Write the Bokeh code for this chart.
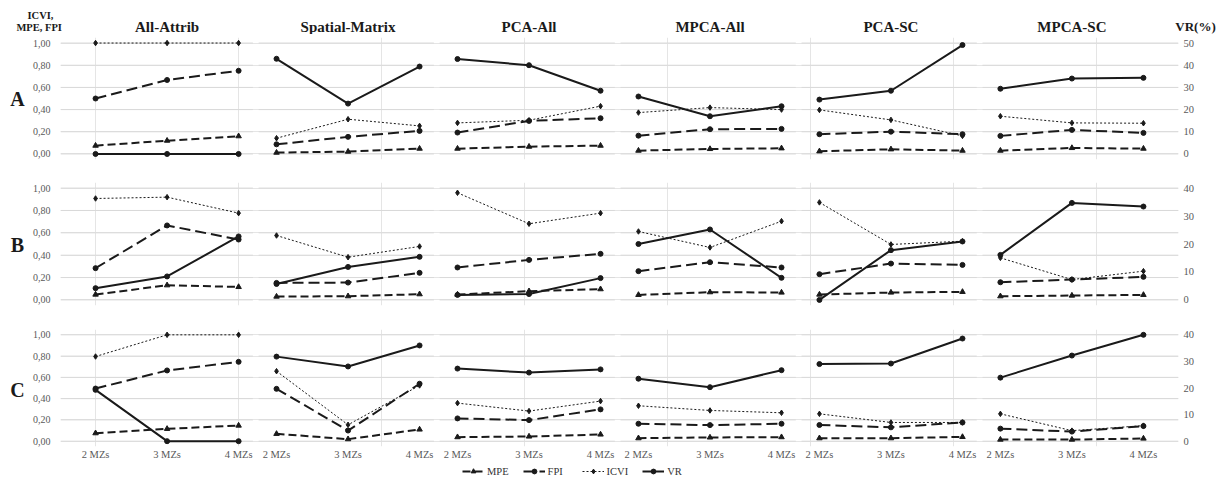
from bokeh.plotting import figure
from bokeh.layouts import column, row
from bokeh.models import Range1d, LinearAxis, FixedTicker, CustomJSTickFormatter, Legend, LegendItem
from bokeh.core.properties import value
from bokeh.embed import file_html
from bokeh.resources import INLINE

# ---------------- data ----------------
methods = ["All-Attrib", "Spatial-Matrix", "PCA-All", "MPCA-All", "PCA-SC", "MPCA-SC"]
zones = ["2 MZs", "3 MZs", "4 MZs"]
row_names = ["A", "B", "C"]
series_names = ["MPE", "FPI", "ICVI", "VR"]
y_ticks = [0, 0.2, 0.4, 0.6, 0.8, 1.0]

mpe_A = [[0.075, 0.12, 0.16], [0.012, 0.021, 0.048], [0.048, 0.066, 0.075],
         [0.03, 0.045, 0.051], [0.024, 0.042, 0.03], [0.03, 0.054, 0.048]]
fpi_A = [[0.50, 0.667, 0.75], [0.087, 0.154, 0.208], [0.193, 0.298, 0.322],
         [0.165, 0.223, 0.226], [0.178, 0.201, 0.178], [0.163, 0.217, 0.19]]
icvi_A = [[1.0, 1.0, 1.0], [0.142, 0.313, 0.253], [0.28, 0.304, 0.431],
          [0.373, 0.418, 0.40], [0.397, 0.307, 0.163], [0.34, 0.28, 0.277]]
vr_A = [[0, 0, 0], [42.9, 22.7, 39.4], [42.8, 40.0, 28.5],
        [25.9, 17.0, 21.5], [24.5, 28.5, 49.1], [29.4, 34.0, 34.3]]

mpe_B = [[0.048, 0.131, 0.116], [0.03, 0.033, 0.051], [0.048, 0.078, 0.096],
         [0.045, 0.069, 0.066], [0.048, 0.066, 0.072], [0.033, 0.039, 0.045]]
fpi_B = [[0.284, 0.666, 0.54], [0.152, 0.155, 0.242], [0.29, 0.358, 0.412],
         [0.257, 0.337, 0.29], [0.23, 0.325, 0.313], [0.158, 0.182, 0.206]]
icvi_B = [[0.907, 0.919, 0.776], [0.576, 0.382, 0.478], [0.958, 0.681, 0.776],
          [0.612, 0.469, 0.704], [0.872, 0.496, 0.525], [0.376, 0.182, 0.257]]
vr_B = [[4.2, 8.4, 22.7], [5.7, 11.8, 15.4], [1.8, 2.1, 7.8],
        [20.0, 25.2, 7.9], [0.0, 17.8, 20.9], [16.1, 34.7, 33.4]]

mpe_C = [[0.075, 0.116, 0.147], [0.069, 0.019, 0.11], [0.038, 0.044, 0.063],
         [0.028, 0.035, 0.038], [0.028, 0.028, 0.04], [0.015, 0.015, 0.025]]
fpi_C = [[0.495, 0.665, 0.746], [0.492, 0.10, 0.54], [0.214, 0.198, 0.299],
         [0.164, 0.151, 0.164], [0.152, 0.13, 0.176], [0.118, 0.09, 0.142]]
icvi_C = [[0.796, 1.0, 1.0], [0.658, 0.154, 0.524], [0.358, 0.283, 0.377],
          [0.333, 0.289, 0.267], [0.257, 0.176, 0.176], [0.257, 0.099, 0.146]]
vr_C = [[19.3, 0, 0], [31.8, 28.1, 36.0], [27.3, 25.8, 27.0],
        [23.5, 20.3, 26.7], [29.0, 29.2, 38.6], [23.9, 32.2, 40.0]]

vr_max = {"A": 50, "B": 40, "C": 40}

# ---------------- layout constants ----------------
FONT = "Liberation Serif"
INK = "#1a1a1a"
GRID = "#d9d9d9"
TICK_COL = "#595959"
S = 2.53                      # stride between panels (x units)
X0, X1 = -0.49, 5 * S + 2.49
BL, BR = 32, 41               # borders of row figures
ROW_W = 1191
FRAME_W = ROW_W - BL - BR
U = FRAME_W / (X1 - X0)

styles = {
    "MPE": dict(dash="8 4", lw=2, marker="triangle", size=5.5),
    "FPI": dict(dash="11 5", lw=2, marker="circle", size=5),
    "ICVI": dict(dash="2 2", lw=1, marker="diamond", size=5.5),
    "VR": dict(dash="solid", lw=2, marker="circle", size=5),
}


def style_axis(ax, standoff, size):
    ax.axis_line_color = None
    ax.major_tick_line_color = None
    ax.minor_tick_line_color = None
    ax.major_tick_out = 0
    ax.major_tick_in = 0
    ax.major_label_standoff = standoff
    ax.major_label_text_font = FONT
    ax.major_label_text_font_size = size
    ax.major_label_text_color = TICK_COL


def make_row(name, mpe, fpi, icvi, vr, height, btop, bbot, with_x):
    p = figure(width=ROW_W, height=height, x_range=Range1d(X0, X1),
               y_range=Range1d(-0.05, 1.05), output_backend="svg",
               toolbar_location=None, x_axis_location=None, y_axis_location=None,
               min_border_left=BL, min_border_right=BR,
               min_border_top=btop, min_border_bottom=bbot,
               outline_line_color=None, background_fill_color="white",
               border_fill_color="white")
    vmax = vr_max[name]
    p.extra_y_ranges = {"vr": Range1d(-0.05 * vmax, 1.05 * vmax)}

    # panel grid lines
    gx0, gx1, gy = [], [], []
    for k in range(6):
        left = k * S - 0.25 if k > 0 else X0
        right = k * S + 2.2 if k < 5 else X1
        for t in y_ticks:
            gx0.append(left)
            gx1.append(right)
            gy.append(t)
    p.segment(x0=gx0, x1=gx1, y0=gy, y1=gy, line_color=GRID, line_width=1)

    ax = LinearAxis(ticker=FixedTicker(ticks=y_ticks),
                    formatter=CustomJSTickFormatter(code="return tick.toFixed(2).replace('.', ',');"))
    style_axis(ax, 10, "10px")
    p.add_layout(ax, "left")

    rx = LinearAxis(y_range_name="vr", ticker=FixedTicker(ticks=list(range(0, vmax + 1, 10))))
    style_axis(rx, 5, "10.5px")
    p.add_layout(rx, "right")

    data = {"MPE": mpe, "FPI": fpi, "ICVI": icvi, "VR": vr}
    for sname in series_names:
        st = styles[sname]
        for k in range(6):
            xs = [k * S + i for i in range(3)]
            ys = data[sname][k]
            kw = {"y_range_name": "vr"} if sname == "VR" else {}
            p.line(xs, ys, line_color=INK, line_width=st["lw"], line_dash=st["dash"], **kw)
            p.scatter(xs, ys, marker=st["marker"], size=st["size"],
                      fill_color=INK, line_color=INK, **kw)

    if with_x:
        pos = [k * S + i for k in range(6) for i in range(3)]
        labs = [zones[i] for k in range(6) for i in range(3)]
        xa = LinearAxis(ticker=FixedTicker(ticks=pos),
                        formatter=CustomJSTickFormatter(
                            args=dict(pos=pos, labs=labs),
                            code="for (let i = 0; i < pos.length; i++) { if (Math.abs(pos[i] - tick) < 1e-6) return labs[i]; } return '';"))
        style_axis(xa, 2, "10.5px")
        p.add_layout(xa, "below")
    return p


def make_letter(letter, height, yc):
    f = figure(width=28, height=height, x_range=Range1d(0, 28), y_range=Range1d(height, 0),
               output_backend="svg", toolbar_location=None,
               x_axis_location=None, y_axis_location=None, min_border=0,
               outline_line_color=None)
    f.xgrid.visible = False
    f.ygrid.visible = False
    f.text(x=[17], y=[yc], text=[letter], text_font=value(FONT), text_font_style="bold",
           text_font_size="20px", text_align="center", text_baseline="middle", text_color=INK)
    return f


# header
HH = 34
header = figure(width=1219, height=HH, x_range=Range1d(X0 - 60 / U, X1 + 41 / U),
                y_range=Range1d(HH, 0), output_backend="svg", toolbar_location=None,
                x_axis_location=None, y_axis_location=None, min_border=0,
                outline_line_color=None)
header.xgrid.visible = False
header.ygrid.visible = False
header.text(x=[k * S + 1 for k in range(6)], y=[26] * 6, text=methods,
            text_font=value(FONT), text_font_style="bold", text_font_size="15px",
            text_align="center", text_baseline="middle", text_color=INK)
header.text(x=[X0 - 20 / U, X0 - 20 / U], y=[15, 27], text=["ICVI,", "MPE,  FPI"],
            text_font=value(FONT), text_font_style="bold", text_font_size="10.5px",
            text_align="center", text_baseline="middle", text_color=INK)
header.text(x=[X1 + 17 / U], y=[26], text=["VR(%)"],
            text_font=value(FONT), text_font_style="bold", text_font_size="13px",
            text_align="center", text_baseline="middle", text_color=INK)

pA = make_row("A", mpe_A, fpi_A, icvi_A, vr_A, 136, 3, 11, False)
pB = make_row("B", mpe_B, fpi_B, icvi_B, vr_B, 147, 12, 12, False)
pC = make_row("C", mpe_C, fpi_C, icvi_C, vr_C, 146, 12, 17, True)

# legend strip (sample glyphs sit outside the visible range)
LH = 14
leg = figure(width=1219, height=LH, x_range=Range1d(0, 1219), y_range=Range1d(0, LH),
             output_backend="svg", toolbar_location=None,
             x_axis_location=None, y_axis_location=None, min_border=0,
             outline_line_color=None)
leg.xgrid.visible = False
leg.ygrid.visible = False
items = []
for sname in series_names:
    st = styles[sname]
    lr = leg.line([-100, -90], [-100, -100], line_color=INK, line_width=st["lw"], line_dash=st["dash"])
    sr = leg.scatter([-100], [-100], marker=st["marker"], size=st["size"], fill_color=INK, line_color=INK)
    items.append(LegendItem(label=sname, renderers=[lr, sr]))
lg = Legend(items=items, orientation="horizontal", location=(462, 0),
            border_line_color=None, background_fill_alpha=0,
            label_text_font=FONT, label_text_font_size="10.5px", label_text_color="#333333",
            glyph_width=22, glyph_height=12, label_height=12,
            padding=1, margin=0, spacing=14, label_standoff=3)
leg.add_layout(lg)

lay = column(header,
             row(make_letter("A", 136, 69), pA),
             row(make_letter("B", 147, 75), pB),
             row(make_letter("C", 146, 75), pC),
             leg)

open("out.html", "w").write(file_html(lay, INLINE))
